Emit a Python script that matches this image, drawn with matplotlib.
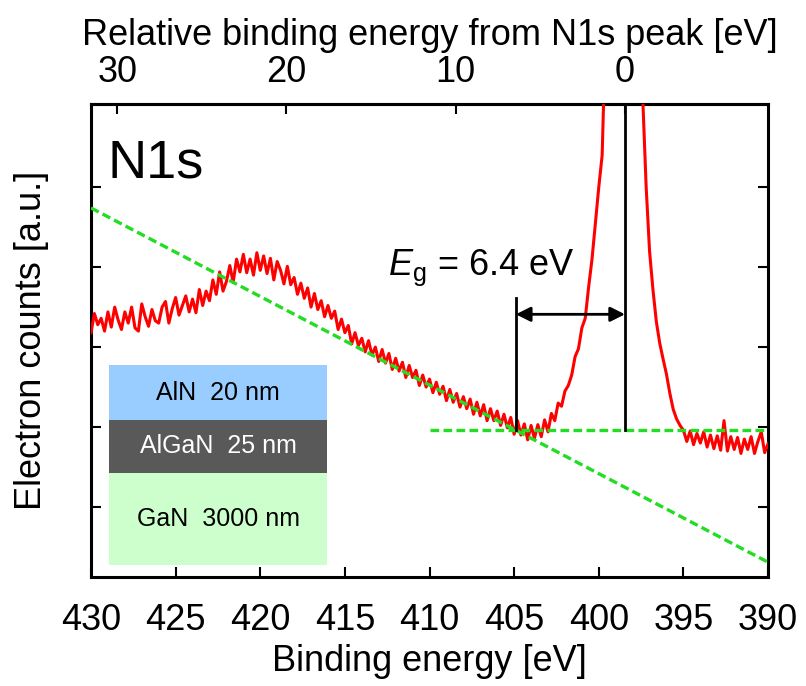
import numpy as np
import matplotlib
matplotlib.use("Agg")
import matplotlib.pyplot as plt
from matplotlib.patches import Rectangle

plt.rcParams['font.family'] = ['Liberation Sans', 'DejaVu Sans']
plt.rcParams['mathtext.fontset'] = 'custom'
plt.rcParams['mathtext.rm'] = 'Liberation Sans'
plt.rcParams['mathtext.it'] = 'Liberation Sans:italic'

# binding energy grid [eV], 430 -> 390 in 0.2 eV steps
energy = np.round(np.arange(430.0, 389.9, -0.2), 1)

# 430.0 ... 402.2
counts_bg = [
    3.18, 3.42, 3.28, 3.36, 3.20, 3.44, 3.25, 3.50, 3.34, 3.22,
    3.44, 3.30, 3.50, 3.24, 3.20, 3.54, 3.38, 3.26, 3.47, 3.33,
    3.30, 3.50, 3.57, 3.30, 3.48, 3.62, 3.40, 3.52, 3.64, 3.44,
    3.60, 3.43, 3.72, 3.52, 3.70, 3.58, 3.84, 3.66, 3.94, 3.70,
    3.82, 4.02, 3.81, 4.10, 3.94, 4.16, 3.93, 4.10, 3.90, 4.18,
    3.96, 4.14, 3.92, 4.11, 3.84, 4.07, 3.96, 3.79, 4.01, 3.78,
    3.87, 3.66, 3.80, 3.61, 3.74, 3.50, 3.67, 3.47, 3.58, 3.38,
    3.52, 3.36, 3.45, 3.22, 3.35, 3.18, 3.27, 3.04, 3.18, 3.02,
    3.11, 2.94, 3.08, 2.90, 3.00, 2.82, 2.97, 2.80, 2.92, 2.72,
    2.86, 2.70, 2.81, 2.62, 2.77, 2.62, 2.71, 2.52, 2.65, 2.50,
    2.60, 2.43, 2.56, 2.41, 2.51, 2.33, 2.47, 2.31, 2.42, 2.25,
    2.38, 2.23, 2.35, 2.16, 2.31, 2.14, 2.28, 2.08, 2.23, 2.08,
    2.20, 2.02, 2.16, 1.99, 2.12, 1.91, 2.08, 1.90, 2.04, 1.84,
    2.02, 1.86, 2.03, 1.88, 2.09, 1.94, 2.17, 2.08, 2.30, 2.26,
]
# 402.0 ... 395.2
counts_peak = [
    2.45, 2.52, 2.65, 2.88, 2.98, 3.24, 3.36, 3.75, 4.10, 4.55,
    5.00, 5.40, 7.00, 8.40, 9.60, 10.60, 11.40, 11.90, 12.00, 11.70,
    10.90, 9.60, 7.90, 6.10, 5.00, 4.20, 3.72, 3.32, 3.05, 2.85,
    2.66, 2.42, 2.22, 2.10, 2.02,
]
# 395.0 ... 390.0
counts_tail = [
    1.96, 1.82, 1.95, 1.78, 1.92, 1.80, 1.94, 1.75, 1.90, 1.73,
    1.89, 1.71, 2.08, 1.70, 1.88, 1.72, 1.87, 1.67, 1.85, 1.72,
    1.88, 1.67, 1.82, 1.94, 1.68, 1.79,
]
counts = np.array(counts_bg + counts_peak + counts_tail)

# background fits (energy, counts)
slope_e = [430, 390]
slope_c = [4.74, 0.31]
flat_e = [410, 390]
flat_c = [1.96, 1.96]

vbm_edge = 404.9
peak_pos = 398.45
arrow_y = 3.41

layers = ['AlN  20 nm', 'AlGaN  25 nm', 'GaN  3000 nm']
layer_colors = ['#99ccff', '#595959', '#ccffcc']
layer_text = ['black', 'white', 'black']
layer_bounds = [0.448, 0.332, 0.220, 0.025]

fig = plt.figure(figsize=(8.06, 6.86), dpi=100)
ax = fig.add_axes([0.1129, 0.1589, 0.84, 0.6895])

ax.plot(energy, counts, color='#ff0000', lw=2.2, zorder=3)
ax.plot(slope_e, slope_c, color='#22dd22', lw=2.4, ls=(0, (2.6, 1.3)), zorder=4)
ax.plot(flat_e, flat_c, color='#22dd22', lw=2.4, ls=(0, (2.6, 1.3)), zorder=4)

ax.plot([vbm_edge, vbm_edge], [1.96, 3.61], color='black', lw=2.0, zorder=5)
ax.plot([peak_pos, peak_pos], [1.96, 7.0], color='black', lw=2.0, zorder=5)
ax.annotate('', xy=(peak_pos, arrow_y), xytext=(vbm_edge, arrow_y),
            arrowprops=dict(arrowstyle='<|-|>', color='black', lw=2.0,
                            mutation_scale=22, shrinkA=0, shrinkB=0), zorder=6)
ax.text(412.45, 3.9, r'$E_\mathrm{g}$ = 6.4 eV', fontsize=26, ha='left', va='baseline')

ax.text(0.025, 0.845, 'N1s', transform=ax.transAxes, fontsize=39, ha='left', va='baseline')

for i, name in enumerate(layers):
    top, bot = layer_bounds[i], layer_bounds[i + 1]
    ax.add_patch(Rectangle((0.0266, bot), 0.322, top - bot, transform=ax.transAxes,
                           facecolor=layer_colors[i], edgecolor='none', zorder=2))
    ax.text(0.0266 + 0.161, (top + bot) / 2, name, transform=ax.transAxes,
            fontsize=18, color=layer_text[i], ha='center', va='center', zorder=3)

ax.set_xlim(430, 390)
ax.set_ylim(0.125, 6.04)
ax.set_xticks(np.arange(390, 431, 5))
ax.set_yticks([1, 2, 3, 4, 5])
ax.set_yticklabels([])
ax.tick_params(axis='both', direction='in', length=7, width=1.5, labelsize=26)
ax.tick_params(axis='x', pad=19)
ax.tick_params(axis='y', right=True)
for s in ax.spines.values():
    s.set_linewidth(2.2)
ax.set_xlabel('Binding energy [eV]', fontsize=26, labelpad=4)
ax.set_ylabel('Electron counts [a.u.]', fontsize=26, labelpad=27)

top = ax.secondary_xaxis('top', functions=(lambda e: e - peak_pos, lambda r: r + peak_pos))
top.set_xticks([0, 10, 20, 30])
top.tick_params(direction='in', length=7, width=1.5, labelsize=26, pad=10)
top.spines['top'].set_linewidth(2.2)
top.set_xlabel('Relative binding energy from N1s peak [eV]', fontsize=26, labelpad=7)

fig.savefig('out.png', dpi=100)
